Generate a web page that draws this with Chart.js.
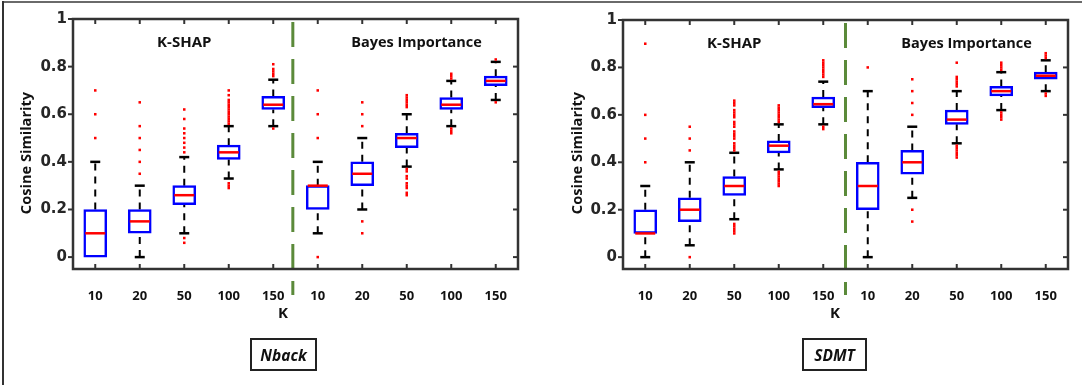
<!DOCTYPE html>
<html>
<head>
<meta charset="utf-8">
<script src="https://cdn.jsdelivr.net/npm/chart.js@4.4.1/dist/chart.umd.min.js"></script>
<style>
html,body{margin:0;padding:0;background:#fff;}
#wrap{position:relative;width:1082px;height:385px;overflow:hidden;background:#fff;}
canvas{position:absolute;top:0;}
#bt{position:absolute;left:2px;top:1px;width:1080px;height:2px;background:#6a6a6a;}
#bl{position:absolute;left:2px;top:1px;width:2px;height:384px;background:#333;}
.k{position:absolute;font-family:'Open Sans',sans-serif;font-weight:bold;font-size:15px;line-height:15px;color:#111;transform:translateX(-50%);}
.tag{position:absolute;box-sizing:border-box;border:2px solid #222;font-family:'Open Sans',sans-serif;font-weight:bold;font-style:italic;font-size:15.5px;color:#111;display:flex;align-items:center;justify-content:center;}
</style>
</head>
<body>
<div id="wrap">
  <canvas id="c1" width="541" height="385" style="left:0;width:541px;height:385px;"></canvas>
  <canvas id="c2" width="541" height="385" style="left:541px;width:541px;height:385px;"></canvas>
  <div id="bt"></div><div id="bl"></div>
  <div class="k" style="left:283px;top:305px;">K</div>
  <div class="k" style="left:835px;top:305px;">K</div>
  <div class="tag" style="left:250px;top:338px;width:67px;height:33px;">Nback</div>
  <div class="tag" style="left:802px;top:338px;width:65px;height:33px;">SDMT</div>
</div>
<script>
// ---- categories / tick labels ----
const kLabels = ['10','20','50','100','150','10','20','50','100','150'];
const yTickValues = [0, 0.2, 0.4, 0.6, 0.8, 1];
const yTickLabels = ['0','0.2','0.4','0.6','0.8','1'];
const methodNames = ['K-SHAP', 'Bayes Importance'];
const yTitle = 'Cosine Similarity';

// ---- Nback panel ----
const nbackQ1  = [0.00, 0.10, 0.22, 0.41, 0.62, 0.20, 0.30, 0.46, 0.62, 0.72];
const nbackQ3  = [0.20, 0.20, 0.30, 0.47, 0.675, 0.30, 0.40, 0.52, 0.67, 0.76];
const nbackMed = [0.10, 0.15, 0.26, 0.44, 0.64, 0.30, 0.35, 0.50, 0.64, 0.74];
const nbackLo  = [0.00, 0.00, 0.10, 0.33, 0.55, 0.10, 0.20, 0.38, 0.55, 0.66];
const nbackHi  = [0.40, 0.30, 0.42, 0.55, 0.745, 0.40, 0.50, 0.60, 0.74, 0.82];
const nbackOut = [
  [0.50, 0.60, 0.70],
  [0.35, 0.40, 0.45, 0.50, 0.55, 0.65],
  [0.06, 0.08, 0.44, 0.46, 0.48, 0.50, 0.52, 0.54, 0.58, 0.62],
  [0.29, 0.30, 0.31, 0.56, 0.57, 0.58, 0.59, 0.60, 0.61, 0.62, 0.63, 0.64, 0.65, 0.66, 0.68, 0.70],
  [0.54, 0.76, 0.77, 0.78, 0.79, 0.81],
  [0.00, 0.50, 0.60, 0.70],
  [0.10, 0.15, 0.55, 0.60, 0.65],
  [0.26, 0.27, 0.29, 0.30, 0.31, 0.33, 0.34, 0.36, 0.37, 0.63, 0.64, 0.65, 0.66, 0.67, 0.68],
  [0.52, 0.53, 0.54, 0.75, 0.76, 0.77],
  [0.65, 0.83]
];

// ---- SDMT panel ----
const sdmtQ1  = [0.10, 0.15, 0.26, 0.44, 0.63, 0.20, 0.35, 0.56, 0.68, 0.75];
const sdmtQ3  = [0.20, 0.25, 0.34, 0.49, 0.675, 0.40, 0.45, 0.62, 0.72, 0.78];
const sdmtMed = [0.10, 0.20, 0.30, 0.47, 0.645, 0.30, 0.40, 0.58, 0.70, 0.765];
const sdmtLo  = [0.00, 0.05, 0.16, 0.37, 0.56, 0.00, 0.25, 0.48, 0.62, 0.70];
const sdmtHi  = [0.30, 0.40, 0.44, 0.56, 0.74, 0.70, 0.55, 0.70, 0.78, 0.83];
const sdmtOut = [
  [0.40, 0.50, 0.60, 0.90],
  [0.00, 0.45, 0.50, 0.55],
  [0.10, 0.11, 0.12, 0.13, 0.14, 0.45, 0.46, 0.47, 0.48, 0.50, 0.51, 0.52, 0.53, 0.55, 0.56, 0.57, 0.59, 0.60, 0.61, 0.62, 0.64, 0.65, 0.66],
  [0.30, 0.31, 0.32, 0.33, 0.34, 0.35, 0.36, 0.57, 0.58, 0.59, 0.60, 0.61, 0.62, 0.63, 0.64],
  [0.54, 0.55, 0.76, 0.77, 0.78, 0.79, 0.80, 0.81, 0.82, 0.83],
  [0.80],
  [0.15, 0.20, 0.60, 0.65, 0.70, 0.75],
  [0.42, 0.43, 0.44, 0.45, 0.46, 0.47, 0.72, 0.73, 0.74, 0.75, 0.76, 0.82],
  [0.58, 0.59, 0.60, 0.61, 0.79, 0.80, 0.81, 0.82],
  [0.68, 0.69, 0.84, 0.85, 0.86]
];

function buildDatasets(q1, q3, med, lo, hi, out) {
  const whisk = [], caps = [], boxes = [], meds = [], outs = [];
  for (let i = 0; i < q1.length; i++) {
    whisk.push({x: i, y: lo[i]}, {x: i, y: q1[i]}, {x: i, y: null},
               {x: i, y: q3[i]}, {x: i, y: hi[i]}, {x: i, y: null});
    if (lo[i] < q1[i]) caps.push({x: i, y: lo[i]});
    if (hi[i] > q3[i]) caps.push({x: i, y: hi[i]});
    boxes.push({x: i, y: [q1[i], q3[i]]});
    meds.push({x: i, y: med[i]});
    out[i].forEach(v => outs.push({x: i, y: v}));
  }
  return [
    {type: 'line', data: whisk, borderColor: '#000', borderWidth: 2, borderDash: [7, 6],
     pointRadius: 0, spanGaps: false, order: 5},
    {type: 'line', data: caps, showLine: false, pointStyle: 'line', pointRadius: 5,
     pointBorderColor: '#000', pointBorderWidth: 2.5, order: 4},
    {type: 'bar', data: boxes, backgroundColor: '#ffffff', borderColor: '#0000ff',
     borderWidth: 2.5, borderSkipped: false, barThickness: 23, grouped: false, order: 3},
    {type: 'line', data: meds, showLine: false, pointStyle: 'line', pointRadius: 10,
     pointBorderColor: '#ff0000', pointBorderWidth: 2.5, order: 2},
    {type: 'line', data: outs, showLine: false, pointStyle: 'rect', pointRadius: 1.8,
     pointBackgroundColor: '#ff0000', pointBorderWidth: 0, order: 1}
  ];
}

const decorPlugin = {
  id: 'decor',
  afterDatasetsDraw(chart, args, o) {
    const {ctx, chartArea: {left, right, top, bottom}, scales: {x, y}} = chart;
    const seg = (x1, y1, x2, y2) => { ctx.beginPath(); ctx.moveTo(x1, y1); ctx.lineTo(x2, y2); ctx.stroke(); };
    ctx.save();
    // separator
    ctx.strokeStyle = '#5b8a3a'; ctx.lineWidth = 3; ctx.setLineDash([25, 12]);
    const sx = x.getPixelForValue(o.sepValue);
    seg(sx, top + 3, sx, bottom + 26);
    ctx.setLineDash([]);
    // ticks + frame
    ctx.strokeStyle = '#333'; ctx.lineWidth = 2;
    x.ticks.forEach(t => { const p = x.getPixelForValue(t.value); seg(p, top, p, top + 5); seg(p, bottom, p, bottom - 5); });
    y.ticks.forEach(t => { const p = y.getPixelForValue(t.value); seg(left - 5, p, left, p); seg(right, p, right - 5, p); });
    ctx.lineWidth = 2.5;
    ctx.strokeRect(left, top, right - left, bottom - top);
    // group labels
    ctx.fillStyle = '#111'; ctx.textAlign = 'center'; ctx.textBaseline = 'middle';
    ctx.font = 'bold 15px "Open Sans"';
    ctx.fillText(methodNames[0], x.getPixelForValue(o.groupX[0]), y.getPixelForValue(o.groupY));
    ctx.font = 'bold 14.5px "Open Sans"';
    ctx.fillText(methodNames[1], x.getPixelForValue(o.groupX[1]), y.getPixelForValue(o.groupY));
    // y title
    ctx.translate(o.titleX, o.titleY);
    ctx.rotate(-Math.PI / 2);
    ctx.font = 'bold 14.6px "Open Sans"';
    ctx.fillText(yTitle, 0, 0);
    ctx.restore();
  }
};

function makePanel(id, ds, lay) {
  return new Chart(document.getElementById(id), {
    type: 'bar',
    data: {datasets: ds},
    plugins: [decorPlugin],
    options: {
      responsive: false, animation: false, devicePixelRatio: 1,
      layout: {padding: {left: 0, right: lay.padRight, top: lay.padTop, bottom: lay.padBottom}},
      plugins: {legend: {display: false}, tooltip: {enabled: false},
        decor: {sepValue: lay.sep, groupX: [2, 7.22], groupY: 0.9, titleX: lay.titleX, titleY: 153}},
      scales: {
        x: {
          type: 'linear', min: -0.5, max: 9.5, offset: false,
          afterBuildTicks: s => { s.ticks = kLabels.map((_, i) => ({value: i})); },
          afterFit: s => { s.height = 50; },
          grid: {display: false, drawTicks: false}, border: {display: false},
          ticks: {callback: v => kLabels[v], autoSkip: false, maxRotation: 0, padding: 19,
                  color: '#111', font: {family: 'Open Sans', weight: 'bold', size: 13}}
        },
        y: {
          type: 'linear', min: -0.05, max: 1,
          afterBuildTicks: s => { s.ticks = yTickValues.map(v => ({value: v})); },
          afterFit: s => { s.width = lay.yWidth; },
          grid: {display: false, drawTicks: false}, border: {display: false},
          ticks: {callback: (v) => yTickLabels[yTickValues.indexOf(v)], padding: 6,
                  color: '#262626', font: {family: 'DejaVu Sans', weight: 'bold', size: 15}}
        }
      }
    }
  });
}

makePanel('c1', buildDatasets(nbackQ1, nbackQ3, nbackMed, nbackLo, nbackHi, nbackOut),
  {padRight: 23, padTop: 19, padBottom: 66, yWidth: 73, sep: 4.44, titleX: 27});
makePanel('c2', buildDatasets(sdmtQ1, sdmtQ3, sdmtMed, sdmtLo, sdmtHi, sdmtOut),
  {padRight: 14, padTop: 20, padBottom: 66, yWidth: 82, sep: 4.5, titleX: 37});
</script>
</body>
</html>
